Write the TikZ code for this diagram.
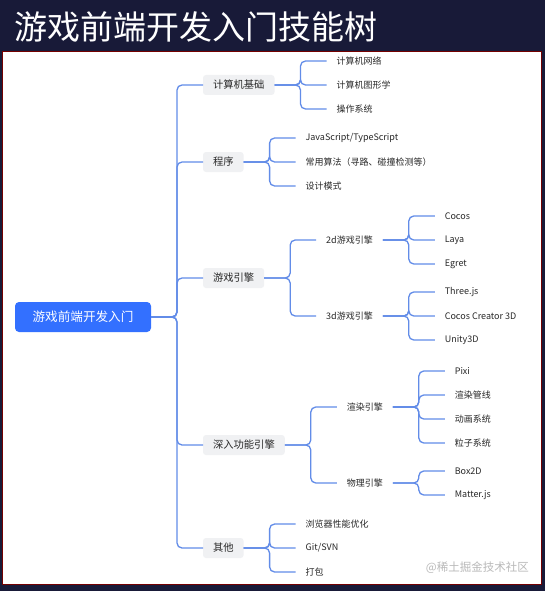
\documentclass[tikz,border=0pt]{standalone}
\usepackage{fontspec}
\setmainfont{Noto Sans CJK SC}
\usetikzlibrary{positioning}
\definecolor{navybg}{RGB}{24,26,56}
\definecolor{rootblue}{RGB}{51,112,255}
\definecolor{linkblue}{RGB}{98,140,232}
\definecolor{boxgray}{RGB}{240,241,243}
\definecolor{inkgray}{RGB}{40,40,40}
\tikzset{
  rootbox/.style={
    rectangle,
    rounded corners=4pt,
    fill=rootblue,
    text=white,
    minimum width=136pt,
    minimum height=30pt,
    inner sep=0pt,
    outer sep=0pt,
    font=\fontsize{12.6pt}{15pt}\selectfont
  },
  topic/.style={
    rectangle,
    rounded corners=3pt,
    fill=boxgray,
    text=inkgray,
    minimum height=20pt,
    inner xsep=10pt,
    inner ysep=0pt,
    outer sep=0pt,
    font=\fontsize{10.3pt}{12pt}\selectfont
  },
  subtopic/.style={
    rectangle,
    text=inkgray,
    inner xsep=10pt,
    inner ysep=2pt,
    outer sep=0pt,
    font=\fontsize{9pt}{11pt}\selectfont
  },
  leaf/.style={
    subtopic
  },
  link/.style={
    draw=linkblue,
    line width=1.3pt,
    rounded corners=5pt
  }
}

\begin{document}
\begin{tikzpicture}[x=1pt, y=-1pt, node distance=52pt]
  \fill[navybg] (0,0) rectangle (545,591);
  \draw[fill=white, draw=red!45!black, line width=1pt] (2,52) rectangle (541,584);
  \useasboundingbox (0,0) rectangle (545,591);
  \node[anchor=west, inner sep=0pt, text=white, font=\fontsize{33pt}{36pt}\selectfont] (title) at (14,27) {游戏前端开发入门技能树};

  \node[rootbox, anchor=west] (root) at (15,317) {游戏前端开发入门};

  \node[topic, right=of root, yshift=232pt] (basics) {计算机基础};
  \node[topic, right=of root, yshift=155pt] (program) {程序};
  \node[topic, right=of root, yshift=39pt] (engine) {游戏引擎};
  \node[topic, right=of root, yshift=-128pt] (deep) {深入功能引擎};
  \node[topic, right=of root, yshift=-231pt] (others) {其他};

  \node[leaf, right=of basics, yshift=24pt] (net) {计算机网络};
  \node[leaf, right=of basics] (graphics) {计算机图形学};
  \node[leaf, right=of basics, yshift=-24pt] (os) {操作系统};

  \node[leaf, right=of program, yshift=24pt] (js) {JavaScript/TypeScript};
  \node[leaf, right=of program] (algo) {常用算法（寻路、碰撞检测等）};
  \node[leaf, right=of program, yshift=-24pt] (pattern) {设计模式};

  \node[subtopic, right=of engine, yshift=38pt] (e2d) {2d游戏引擎};
  \node[subtopic, right=of engine, yshift=-38pt] (e3d) {3d游戏引擎};
  \node[leaf, right=of e2d, yshift=24pt] (cocos) {Cocos};
  \node[leaf, right=of e2d] (laya) {Laya};
  \node[leaf, right=of e2d, yshift=-24pt] (egret) {Egret};
  \node[leaf, right=of e3d, yshift=24pt] (three) {Three.js};
  \node[leaf, right=of e3d] (creator) {Cocos Creator 3D};
  \node[leaf, right=of e3d, yshift=-24pt] (unity) {Unity3D};

  \node[subtopic, right=of deep, yshift=38pt] (render) {渲染引擎};
  \node[subtopic, right=of deep, yshift=-38pt] (physics) {物理引擎};
  \node[leaf, right=of render, yshift=36pt] (pixi) {Pixi};
  \node[leaf, right=of render, yshift=12pt] (pipeline) {渲染管线};
  \node[leaf, right=of render, yshift=-12pt] (anim) {动画系统};
  \node[leaf, right=of render, yshift=-36pt] (particle) {粒子系统};
  \node[leaf, right=of physics, yshift=12pt] (box) {Box2D};
  \node[leaf, right=of physics, yshift=-12pt] (matter) {Matter.js};

  \node[leaf, right=of others, yshift=24pt] (perf) {浏览器性能优化};
  \node[leaf, right=of others] (git) {Git/SVN};
  \node[leaf, right=of others, yshift=-24pt] (pack) {打包};

  \node[anchor=east, inner sep=0pt, text=gray!55, font=\fontsize{11.5pt}{13pt}\selectfont] (credit) at (529,568) {@稀土掘金技术社区};

  \draw[link] (root.east) -- ++(26,0) |- (basics.west);
  \draw[link] (root.east) -- ++(26,0) |- (program.west);
  \draw[link] (root.east) -- ++(26,0) |- (engine.west);
  \draw[link] (root.east) -- ++(26,0) |- (deep.west);
  \draw[link] (root.east) -- ++(26,0) |- (others.west);

  \draw[link] (basics.east) -- ++(26,0) |- (net.west);
  \draw[link] (basics.east) -- ++(26,0) |- (graphics.west);
  \draw[link] (basics.east) -- ++(26,0) |- (os.west);

  \draw[link] (program.east) -- ++(26,0) |- (js.west);
  \draw[link] (program.east) -- ++(26,0) |- (algo.west);
  \draw[link] (program.east) -- ++(26,0) |- (pattern.west);

  \draw[link] (engine.east) -- ++(26,0) |- (e2d.west);
  \draw[link] (engine.east) -- ++(26,0) |- (e3d.west);
  \draw[link] (e2d.east) -- ++(26,0) |- (cocos.west);
  \draw[link] (e2d.east) -- ++(26,0) |- (laya.west);
  \draw[link] (e2d.east) -- ++(26,0) |- (egret.west);
  \draw[link] (e3d.east) -- ++(26,0) |- (three.west);
  \draw[link] (e3d.east) -- ++(26,0) |- (creator.west);
  \draw[link] (e3d.east) -- ++(26,0) |- (unity.west);

  \draw[link] (deep.east) -- ++(26,0) |- (render.west);
  \draw[link] (deep.east) -- ++(26,0) |- (physics.west);
  \draw[link] (render.east) -- ++(26,0) |- (pixi.west);
  \draw[link] (render.east) -- ++(26,0) |- (pipeline.west);
  \draw[link] (render.east) -- ++(26,0) |- (anim.west);
  \draw[link] (render.east) -- ++(26,0) |- (particle.west);
  \draw[link] (physics.east) -- ++(26,0) |- (box.west);
  \draw[link] (physics.east) -- ++(26,0) |- (matter.west);

  \draw[link] (others.east) -- ++(26,0) |- (perf.west);
  \draw[link] (others.east) -- ++(26,0) |- (git.west);
  \draw[link] (others.east) -- ++(26,0) |- (pack.west);
\end{tikzpicture}
\end{document}
